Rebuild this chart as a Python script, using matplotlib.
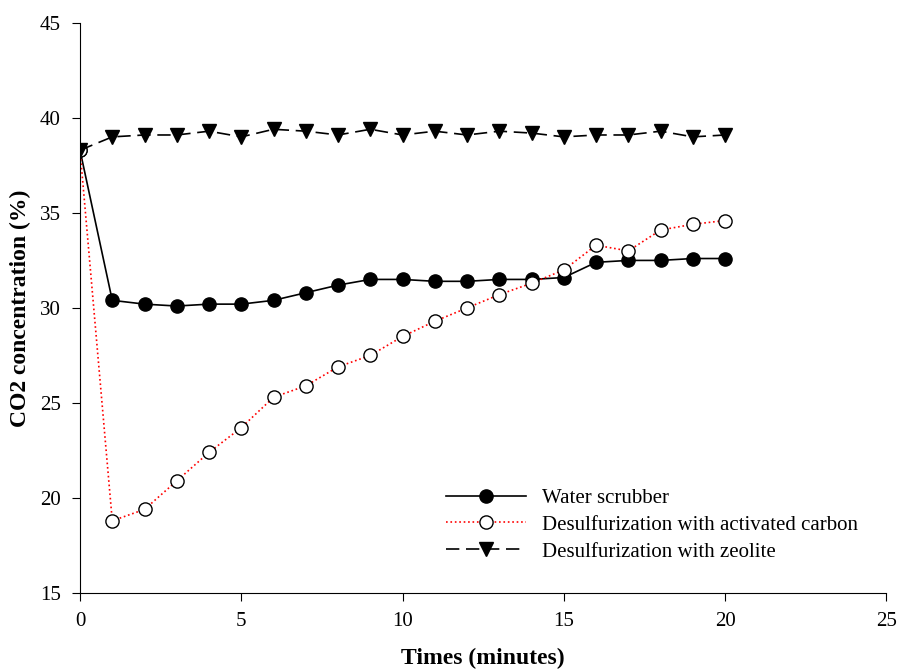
import numpy as np
import matplotlib
matplotlib.use('Agg')
import matplotlib.pyplot as plt

plt.rcParams['font.family'] = ['Liberation Serif', 'DejaVu Serif']

# data
minutes = list(range(0, 21))
water = [38.3, 30.4, 30.2, 30.1, 30.2, 30.2, 30.4, 30.8, 31.2, 31.5, 31.5,
         31.4, 31.4, 31.5, 31.5, 31.6, 32.4, 32.5, 32.5, 32.6, 32.6]
carbon = [38.3, 18.8, 19.4, 20.9, 22.4, 23.7, 25.3, 25.9, 26.9, 27.5, 28.5,
          29.3, 30.0, 30.7, 31.3, 32.0, 33.3, 33.0, 34.1, 34.4, 34.6]
zeolite = [38.3, 39.0, 39.1, 39.1, 39.3, 39.0, 39.4, 39.3, 39.1, 39.4, 39.1,
           39.3, 39.1, 39.3, 39.2, 39.0, 39.1, 39.1, 39.3, 39.0, 39.1]
labels = ['Water scrubber', 'Desulfurization with activated carbon',
          'Desulfurization with zeolite']

fig = plt.figure(figsize=(9.01, 6.70), dpi=100)
ax = fig.add_axes([0.0888, 0.1149, 0.895, 0.851])

ax.plot(minutes, water, '-', color='black', lw=1.2, marker='o', ms=9.5,
        mfc='black', mec='black', label=labels[0])
ax.plot(minutes, carbon, ':', color='red', lw=1.2, marker='o', ms=9.5,
        mfc='white', mec='black', label=labels[1])
ax.plot(minutes, zeolite, '--', color='black', lw=1.2, dashes=(8, 4), marker='v', ms=9.5,
        mfc='black', mec='black', label=labels[2])

ax.set_xlim(0, 25)
ax.set_ylim(15, 45)
ax.set_xticks([0, 5, 10, 15, 20, 25])
ax.set_yticks([15, 20, 25, 30, 35, 40, 45])
ax.spines['top'].set_visible(False)
ax.spines['right'].set_visible(False)
ax.tick_params(direction='out', length=6, labelsize=15, pad=8)
ax.set_xlabel('Times (minutes)', fontsize=17, fontweight='bold', labelpad=12)
ax.set_ylabel('CO2 concentration (%)', fontsize=17, fontweight='bold', labelpad=6)

ax.legend(loc='lower right', bbox_to_anchor=(0.965, 0.055), frameon=False,
          fontsize=15, handlelength=3.8, labelspacing=0.35, handletextpad=0.8,
          borderpad=0, borderaxespad=0)

fig.savefig('out.png', dpi=100)
